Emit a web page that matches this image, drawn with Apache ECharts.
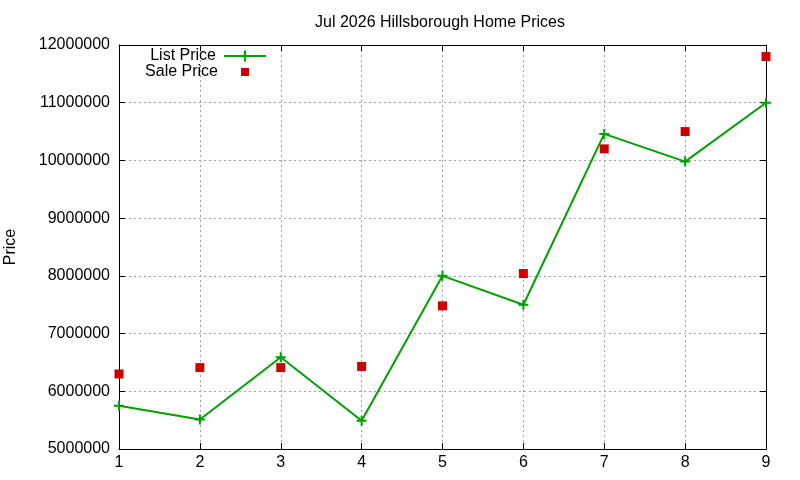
<!DOCTYPE html>
<html>
<head>
<meta charset="utf-8">
<script src="https://cdn.jsdelivr.net/npm/echarts@6/dist/echarts.min.js"></script>
<style>
  html, body { margin: 0; padding: 0; background: #fff; }
  #main { width: 800px; height: 480px; }
</style>
</head>
<body>
<div id="main"></div>
<script>
// data
var months = [1, 2, 3, 4, 5, 6, 7, 8, 9];
var listPrice = [5750000, 5510000, 6590000, 5490000, 8000000, 7500000, 10460000, 9980000, 11000000];
var salePrice = [6300000, 6410000, 6410000, 6430000, 7480000, 8040000, 10200000, 10500000, 11800000];

var FONT = '"Liberation Sans", Arial, sans-serif';
var plus = 'path://M4,0h2v10h-2z M0,4h10v2h-10z';

function pairs(xs, ys) {
    return xs.map(function (x, i) { return [x, ys[i]]; });
}

var myChart = echarts.init(document.getElementById('main'));
var option = {
    animation: false,
    backgroundColor: '#fff',
    textStyle: { fontFamily: FONT },
    title: {
        text: 'Jul 2026 Hillsborough Home Prices',
        left: 435,
        textAlign: 'center',
        top: 10,
        textStyle: { fontFamily: FONT, fontSize: 16, fontWeight: 'normal', color: '#000' }
    },
    legend: [{
        data: ['List Price'],
        align: 'right',
        right: 533,
        top: 48,
        padding: 0,
        itemWidth: 42,
        itemHeight: 14,
        textStyle: { fontFamily: FONT, fontSize: 16, color: '#000', padding: [0, 3, 0, 0] }
    }, {
        data: ['Sale Price'],
        align: 'right',
        right: 551,
        top: 64,
        padding: 0,
        itemWidth: 8,
        itemHeight: 8,
        icon: 'rect',
        textStyle: { fontFamily: FONT, fontSize: 16, color: '#000', padding: [0, 18, 0, 0] }
    }],
    grid: { left: 119, right: 34, top: 45, bottom: 31, outerBoundsMode: 'none' },
    xAxis: [{
        type: 'value',
        min: 1, max: 9, interval: 1,
        axisLine: { lineStyle: { color: '#000', width: 1 } },
        axisTick: { inside: true, length: 6, lineStyle: { color: '#000' } },
        axisLabel: { fontSize: 16, color: '#000', margin: 6, fontFamily: FONT },
        splitLine: { show: true, lineStyle: { color: '#a0a0a0', type: [2, 3], width: 1 } }
    }, {
        type: 'value', position: 'top',
        min: 1, max: 9, interval: 1,
        axisLine: { lineStyle: { color: '#000', width: 1 } },
        axisTick: { inside: true, length: 6, lineStyle: { color: '#000' } },
        axisLabel: { show: false },
        splitLine: { show: false }
    }],
    yAxis: [{
        type: 'value',
        min: 5000000, max: 12000000, interval: 1000000,
        name: 'Price',
        nameLocation: 'middle',
        nameRotate: 90,
        nameGap: 100,
        nameTextStyle: { fontSize: 16, color: '#000', fontFamily: FONT },
        axisLine: { show: true, lineStyle: { color: '#000', width: 1 } },
        axisTick: { show: true, inside: true, length: 6, lineStyle: { color: '#000' } },
        axisLabel: {
            fontSize: 16, color: '#000', margin: 9, fontFamily: FONT,
            formatter: function (v) { return String(v); }
        },
        splitLine: { show: true, lineStyle: { color: '#a0a0a0', type: [2, 3], width: 1 } }
    }, {
        type: 'value', position: 'right',
        min: 5000000, max: 12000000, interval: 1000000,
        axisLine: { show: true, lineStyle: { color: '#000', width: 1 } },
        axisTick: { show: true, inside: true, length: 6, lineStyle: { color: '#000' } },
        axisLabel: { show: false },
        splitLine: { show: false }
    }],
    series: [{
        name: 'List Price',
        type: 'line',
        data: pairs(months, listPrice),
        symbol: plus,
        symbolSize: 10,
        color: '#00a000',
        lineStyle: { color: '#00a000', width: 2 },
        itemStyle: { color: '#00a000' },
        z: 3
    }, {
        name: 'Sale Price',
        type: 'scatter',
        data: pairs(months, salePrice),
        symbol: 'rect',
        symbolSize: 9,
        itemStyle: { color: '#cc0000', opacity: 1 },
        z: 4
    }]
};
myChart.setOption(option);
</script>
</body>
</html>
